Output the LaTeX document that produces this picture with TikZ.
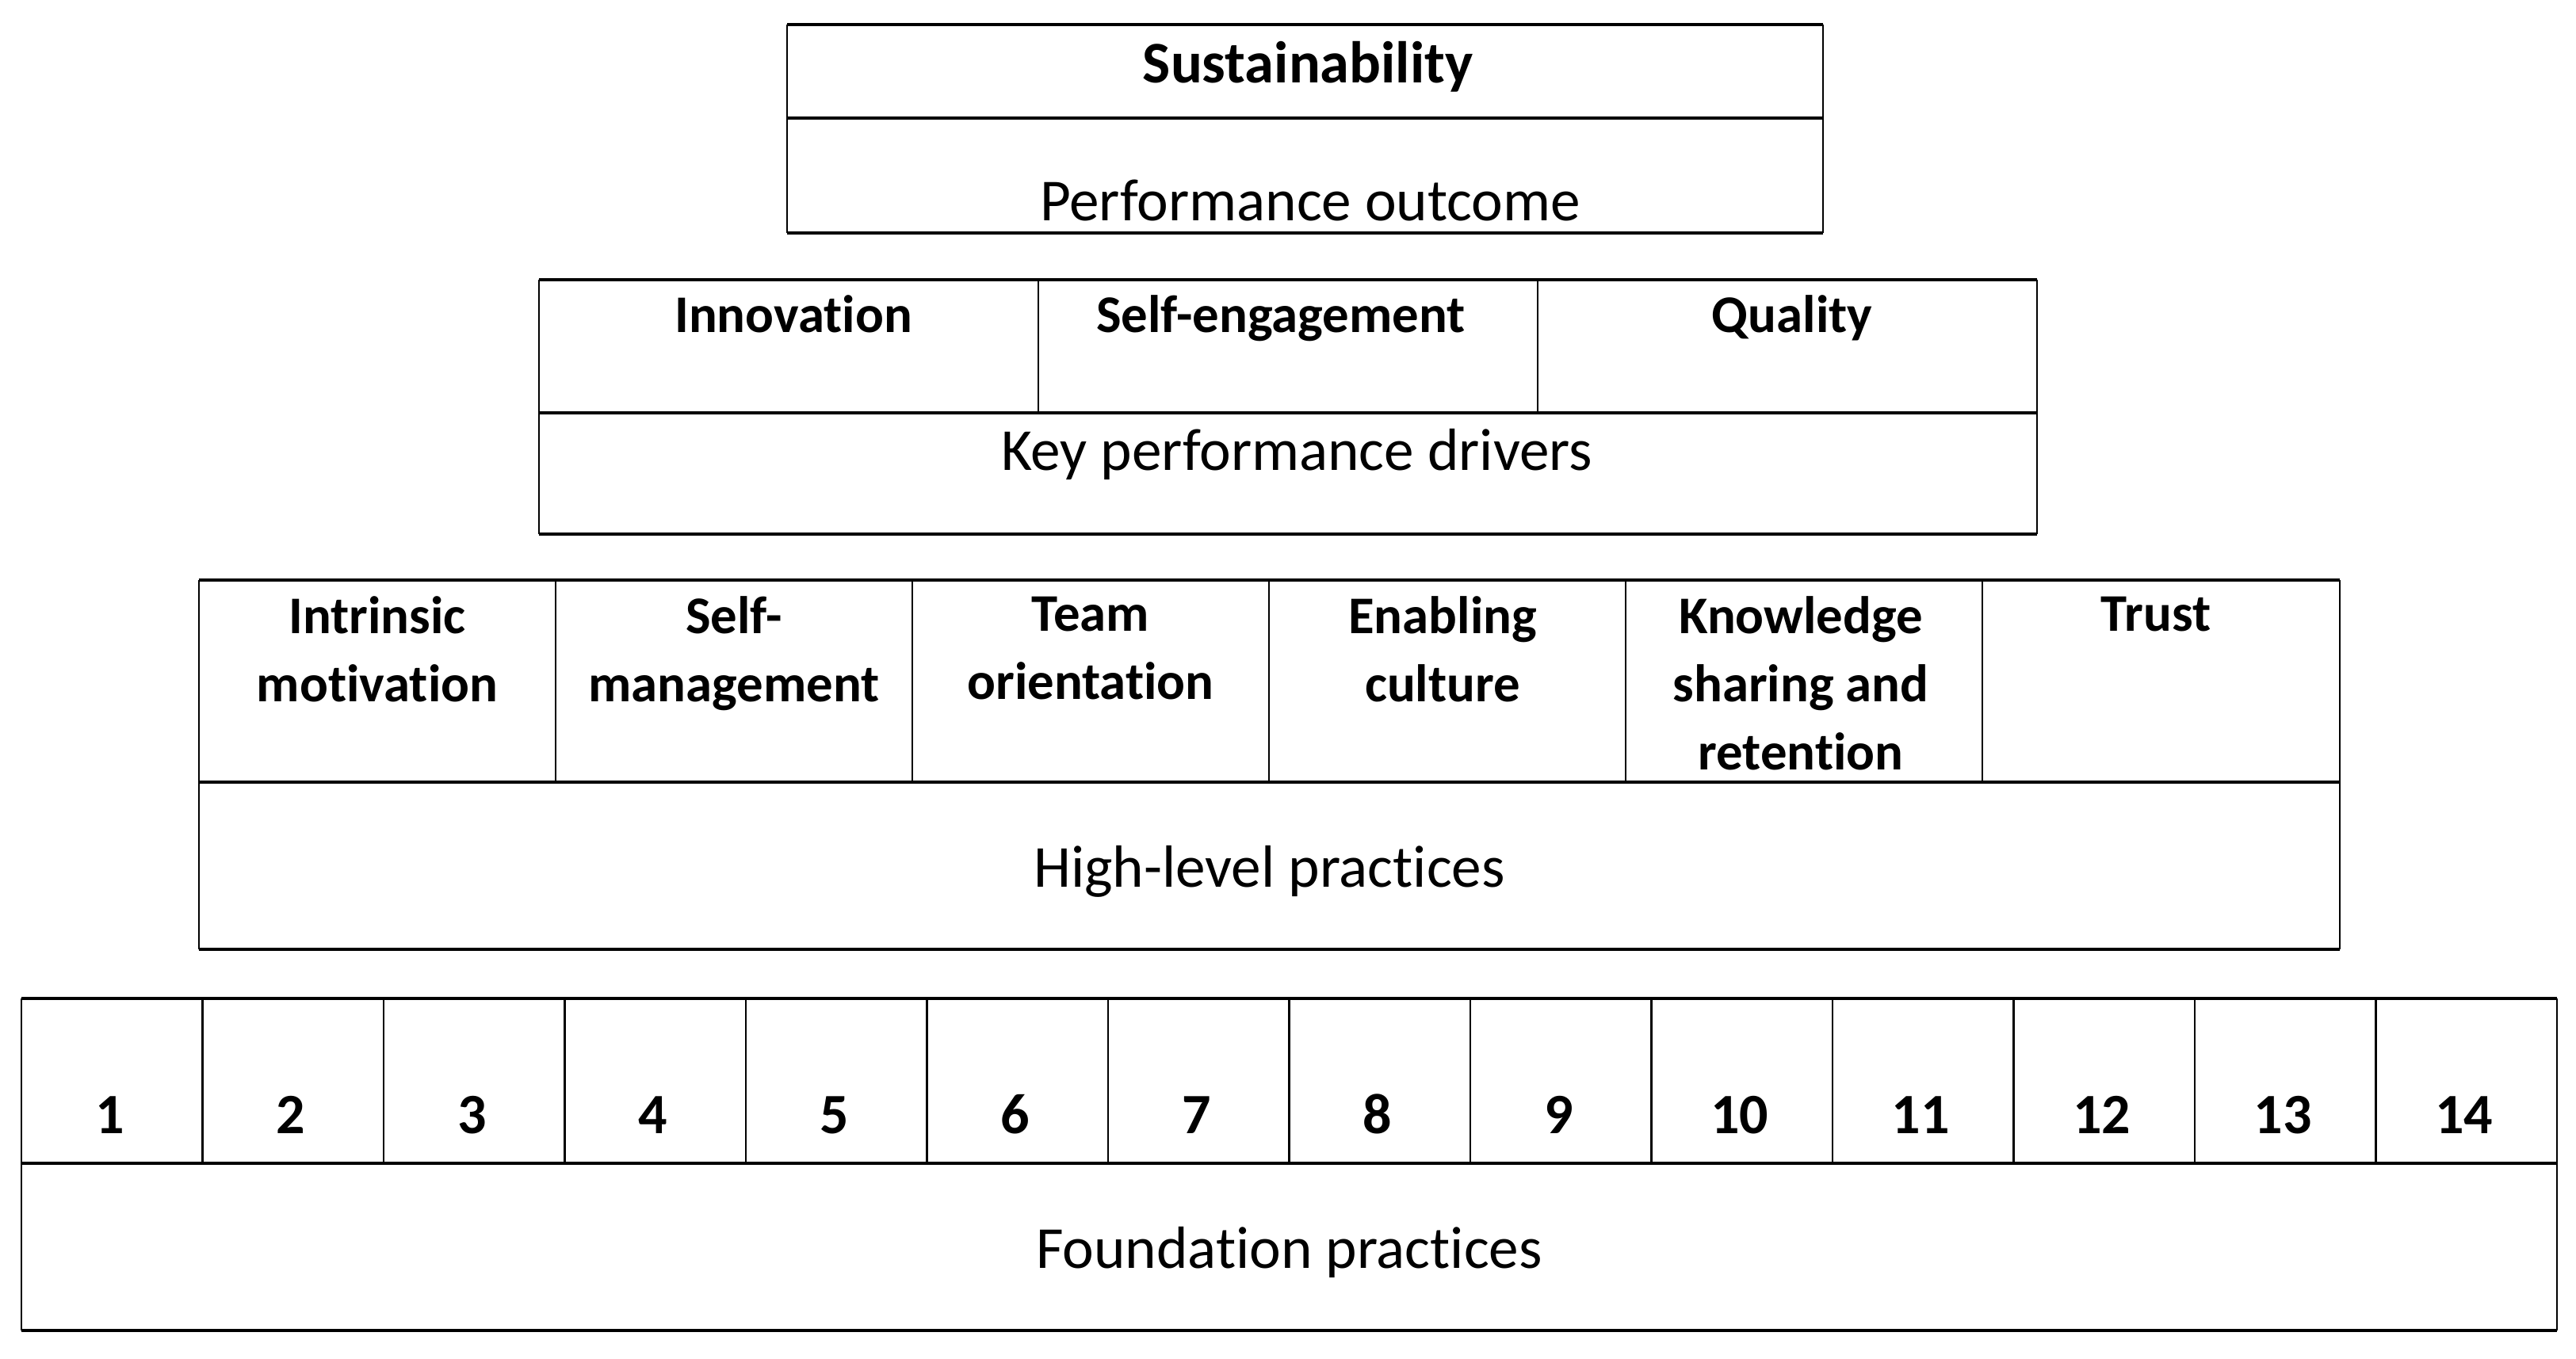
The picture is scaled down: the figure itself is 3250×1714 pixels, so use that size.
\documentclass[tikz,border=0pt]{standalone}
\usepackage{fontspec}
\setmainfont{Carlito}[RawFeature={-liga;-clig;-dlig;-calt}]
\begin{document}
\begin{tikzpicture}[x=0.25pt,y=-0.25pt,
  hline/.style={line width=1pt},
  vline/.style={line width=0.7pt},
  thinv/.style={line width=0.55pt},
  lbl/.style={font=\fontsize{16.7}{21.5}\selectfont\bfseries, align=center, inner sep=0pt},
  txt/.style={font=\fontsize{18.8}{22}\selectfont, anchor=base, inner sep=0pt}]
\useasboundingbox[fill=white] (0,0) rectangle (3250,1714);
% Tier 1
\draw[hline] (993,31) -- (2300,31) (993,149) -- (2300,149) (993,294) -- (2300,294);
\draw[vline] (993,31) -- (993,294) (2300,31) -- (2300,294);
\node[lbl, anchor=base, font=\fontsize{18.6}{22}\selectfont\bfseries] (sus) at (1650,104) {Sustainability};
\node[txt] (perf) at (1653,278) {Performance outcome};
% Tier 2
\draw[hline] (680,353) -- (2570,353) (680,521) -- (2570,521) (680,674) -- (2570,674);
\draw[vline] (680,353) -- (680,674) (2570,353) -- (2570,674);
\draw[thinv] (1310,353) -- (1310,521) (1940,353) -- (1940,521);
\node[lbl, anchor=base] (inno) at (1001,419) {Innovation};
\node[lbl, anchor=base] (self) at (1616,419) {Self-engagement};
\node[lbl, anchor=base] (qual) at (2261,419) {Quality};
\node[txt] (kpd) at (1636,593) {Key performance drivers};
% Tier 3
\draw[hline] (251,732) -- (2952,732) (251,987) -- (2952,987) (251,1198) -- (2952,1198);
\draw[vline] (251,732) -- (251,1198) (2952,732) -- (2952,1198);
\foreach \k in {1,...,5} {\draw[thinv] ({251+450*\k},732) -- ({251+450*\k},987);}
\node[lbl, anchor=north] (hp1) at (476,752) {Intrinsic\\motivation};
\node[lbl, anchor=north] (hp2) at (926,752) {Self-\\management};
\node[lbl, anchor=north] (hp3) at (1376,752) {Team\\orientation};
\node[lbl, anchor=north] (hp4) at (1820,752) {Enabling\\culture};
\node[lbl, anchor=north] (hp5) at (2272,752) {Knowledge\\sharing and\\retention};
\node[lbl, anchor=north] (hp6) at (2720,752) {Trust};
\node[txt] (hlp) at (1601.5,1119) {High-level practices};
% Tier 4
\draw[hline] (27,1260) -- (3226,1260) (27,1468) -- (3226,1468) (27,1679) -- (3226,1679);
\draw[vline] (27,1260) -- (27,1679) (3226,1260) -- (3226,1679);
\foreach \k in {1,...,13} {\draw[thinv] ({27+228.5*\k},1260) -- ({27+228.5*\k},1468);}
\foreach \k in {1,...,14} {\node[lbl, anchor=base, font=\fontsize{18}{22}\selectfont\bfseries] (fp\k) at ({27+228.5*\k-114.25-3},1430) {\k};}
\node[txt] (fnd) at (1626.5,1600) {Foundation practices};
\end{tikzpicture}
\end{document}
